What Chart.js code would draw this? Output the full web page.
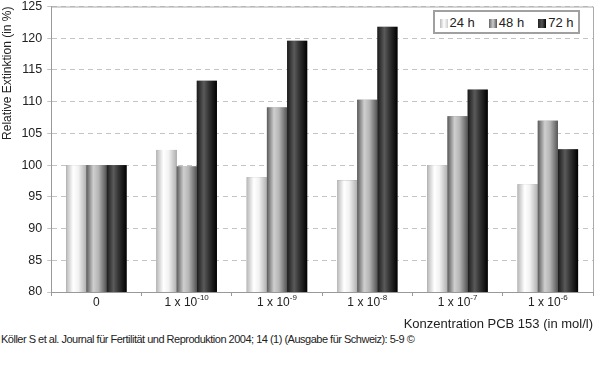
<!DOCTYPE html>
<html>
<head>
<meta charset="utf-8">
<script src="https://cdn.jsdelivr.net/npm/chart.js@4"></script>
<style>
  body { margin: 0; background: #fff; width: 600px; height: 389px; overflow: hidden; font-family: "Liberation Sans", Arial, sans-serif; }
  #wrap { position: relative; width: 600px; height: 340px; margin-top: -6px; }
  #src { font-size: 11px; color: #222; margin: -1px 0 0 1px; letter-spacing: -0.5px; }
  #legend { position: absolute; left: 433px; top: 16px; width: 143px; height: 20px; border: 2px solid #a0a0a0; background: #fff;
            font-size: 13px; color: #222; display: flex; align-items: center; justify-content: center; gap: 14px; }
  #legend span.sw { display: inline-block; width: 8px; height: 9px; margin-right: 2px; vertical-align: -1px; }
</style>
</head>
<body>
<div id="wrap"><canvas id="myChart"></canvas><div id="legend"></div></div>
<div id="src">Köller S et al. Journal für Fertilität und Reproduktion 2004; 14 (1) (Ausgabe für Schweiz): 5-9 ©</div>
<script>
var categories = ['0', '1 x 10^-10', '1 x 10^-9', '1 x 10^-8', '1 x 10^-7', '1 x 10^-6'];
var seriesNames = ['24 h', '48 h', '72 h'];
var values24 = [100, 102.4, 98.1, 97.6, 100.0, 97.0];
var values48 = [100, 99.8, 109.1, 110.3, 107.7, 107.0];
var values72 = [100, 113.3, 119.6, 121.8, 111.9, 102.5];

// cylinder-like shading of each bar, left to right
var shades = [
  [[0, '#b8b8b8'], [0.35, '#ffffff'], [0.6, '#f2f2f2'], [1, '#b0b0b0']],
  [[0, '#5a5a5a'], [0.35, '#cfcfcf'], [0.6, '#b5b5b5'], [1, '#555555']],
  [[0, '#1a1a1a'], [0.35, '#5a5a5a'], [0.6, '#333333'], [1, '#000000']]
];
var swatch = [
  'linear-gradient(to right,#bbb,#fff,#ccc)',
  'linear-gradient(to right,#666,#ccc,#555)',
  'linear-gradient(to right,#222,#555,#000)'
];

document.getElementById('legend').innerHTML = seriesNames.map(function (n, i) {
  return '<span><span class="sw" style="background:' + swatch[i] + '"></span>' + n + '</span>';
}).join('');

var FONT = '"Liberation Sans", Arial, sans-serif';

var shade = {
  id: 'shade',
  afterDatasetsDraw(chart) {
    var ctx = chart.ctx, a = chart.chartArea;
    ctx.save();
    chart.data.datasets.forEach(function (ds, i) {
      chart.getDatasetMeta(i).data.forEach(function (bar) {
        var x0 = bar.x - bar.width / 2;
        var bottom = Math.min(bar.base, a.bottom);
        var g = ctx.createLinearGradient(x0, 0, x0 + bar.width, 0);
        shades[i].forEach(function (s) { g.addColorStop(s[0], s[1]); });
        ctx.fillStyle = g;
        ctx.fillRect(x0, bar.y, bar.width, bottom - bar.y);
      });
    });
    ctx.restore();
  },
  afterDraw(chart) {
    var ctx = chart.ctx, a = chart.chartArea, xs = chart.scales.x;
    ctx.save();
    ctx.strokeStyle = '#aaaaaa';
    ctx.lineWidth = 1;
    ctx.beginPath();
    ctx.moveTo(a.left, a.top + 0.5);
    ctx.lineTo(a.right + 0.5, a.top + 0.5);
    ctx.lineTo(a.right + 0.5, a.bottom);
    ctx.stroke();

    // category labels with real superscript exponents
    ctx.fillStyle = '#222';
    ctx.textBaseline = 'alphabetic';
    ctx.textAlign = 'left';
    var y = a.bottom + 14;
    categories.forEach(function (lab, i) {
      var parts = lab.split('^');
      var cx = xs.getPixelForValue(i);
      ctx.font = '12px ' + FONT;
      var w1 = ctx.measureText(parts[0]).width;
      var w2 = 0;
      if (parts[1]) {
        ctx.font = '8px ' + FONT;
        w2 = ctx.measureText(parts[1]).width;
      }
      var x = cx - (w1 + w2) / 2;
      ctx.font = '12px ' + FONT;
      ctx.fillText(parts[0], x, y);
      if (parts[1]) {
        ctx.font = '8px ' + FONT;
        ctx.fillText(parts[1], x + w1, y - 6);
      }
    });
    ctx.restore();
  }
};

var data = {
  labels: categories,
  datasets: [values24, values48, values72].map(function (v, i) {
    return {
      label: seriesNames[i],
      data: v,
      backgroundColor: '#888',
      borderWidth: 0,
      barPercentage: 1,
      categoryPercentage: 0.67
    };
  })
};

Chart.defaults.font.family = FONT;
Chart.defaults.color = '#222';

new Chart(document.getElementById('myChart'), {
  type: 'bar',
  data: data,
  plugins: [shade],
  options: {
    responsive: true,
    maintainAspectRatio: false,
    animation: false,
    layout: { padding: { top: 1, right: 7, left: 0, bottom: 2 } },
    plugins: {
      tooltip: { enabled: false },
      legend: { display: false }
    },
    scales: {
      x: {
        grid: { offset: true, drawOnChartArea: false, tickLength: 4, color: '#999' },
        border: { color: '#999', width: 1 },
        ticks: { font: { size: 12 }, color: 'rgba(0,0,0,0)', padding: 1, maxRotation: 0,
                 callback: function (v, i) { return categories[i].replace('^', ''); } },
        title: {
          display: true,
          text: 'Konzentration PCB 153 (in mol/l)',
          align: 'end',
          font: { size: 13 },
          color: '#222',
          padding: { top: 4, bottom: 0 }
        }
      },
      y: {
        min: 80,
        max: 125,
        ticks: { stepSize: 5, font: { size: 12.5 }, color: '#222', padding: 5 },
        grid: { color: '#c4c4c4', tickLength: 4 },
        border: { color: '#999', width: 1, dash: [5, 4] },
        title: {
          display: true,
          text: 'Relative Extinktion (in %)',
          align: 'end',
          font: { size: 12 },
          color: '#222',
          padding: { top: 0, bottom: 2 }
        }
      }
    }
  }
});
</script>
</body>
</html>
